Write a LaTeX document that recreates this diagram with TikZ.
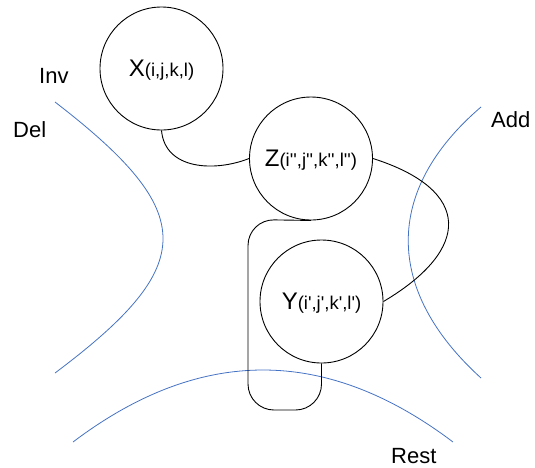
\documentclass[tikz,border=0pt]{standalone}
\usepackage{fontspec}
\setmainfont{Liberation Sans}
\newcommand{\myq}{\textquotesingle}
\definecolor{curveblue}{RGB}{68,114,196}
\tikzset{
  state/.style={draw=black, circle, line width=0.9pt, minimum size=123pt, inner sep=0pt, text height=16pt, text depth=0pt},
  link/.style={draw=black, line width=0.9pt},
  zone/.style={draw=curveblue, line width=0.8pt},
  zonelabel/.style={anchor=base west, inner sep=0pt, font=\fontsize{22}{22}\selectfont}
}
\newcommand{\bigv}[1]{{\fontsize{24}{24}\selectfont #1}}
\newcommand{\smallv}[1]{{\fontsize{18.5}{18.5}\selectfont #1}}
\begin{document}
\begin{tikzpicture}[x=1pt, y=-1pt]
\useasboundingbox (0,0) rectangle (535,467);
% zones
\draw[zone] (55,102) .. controls (199,213) and (199,265) .. (55,373);
\draw[zone] (481,107) .. controls (384,190) and (384,290) .. (481,378);
\draw[zone] (73,442) .. controls (200,346) and (326,346) .. (453,442);
% labels
\node[zonelabel] (inv) at (39,83) {Inv};
\node[zonelabel] (del) at (13,137) {Del};
\node[zonelabel] (add) at (491,127) {Add};
\node[zonelabel] (rest) at (391,463) {Rest};
% states
\node[state] (X) at (161.5,68.5) {\bigv{X}\smallv{(i,j,k,l)}};
\node[state] (Z) at (311,158.5) {\bigv{Z}\smallv{(i\myq\myq,j\myq\myq,k\myq\myq,l\myq\myq)}};
\node[state] (Y) at (321.5,301.5) {\bigv{Y}\smallv{(i\myq,j\myq,k\myq,l\myq)}};
% connectors
\draw[link] (X.south) .. controls (165,170) and (215,172) .. (Z.west);
\draw[link] (Z.east) .. controls (472,190) and (472,249) .. (Y.east);
\draw[link, rounded corners=26pt] (Z.south) -- (248,219.5) -- (248,410) -- (321.5,410) -- (Y.south);
\end{tikzpicture}
\end{document}
